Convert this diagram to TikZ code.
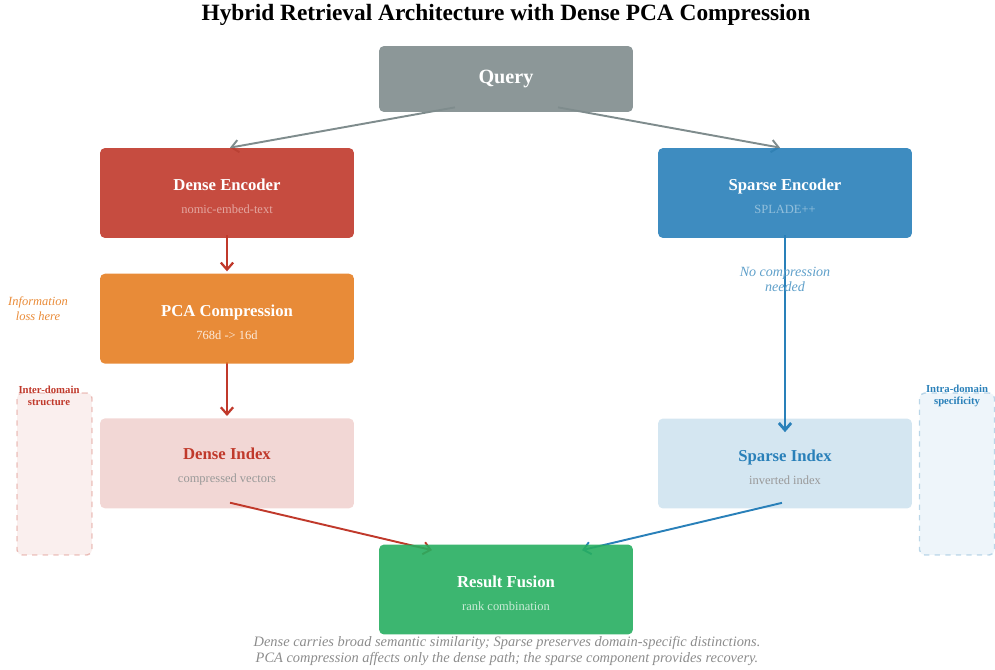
\documentclass[tikz,border=0pt]{standalone}
\usepackage{fontspec}
\setmainfont{Liberation Serif}
\usetikzlibrary{positioning,arrows.meta,calc}
\pgfdeclarelayer{back}
\pgfsetlayers{back,main}
\definecolor{querygray}{HTML}{7F8C8D}
\definecolor{densered}{HTML}{C0392B}
\definecolor{sparseblue}{HTML}{2980B9}
\definecolor{pcaorange}{HTML}{E67E22}
\definecolor{fusiongreen}{HTML}{27AE60}
\newcommand{\boxlines}[3]{{\fontsize{9.5}{10.5}\selectfont\bfseries\rule{0pt}{10.5pt}#1}\\[1.2pt]{\fontsize{7.1}{8}\selectfont\color{#3}#2}}

\begin{document}
\begin{tikzpicture}[x=0.02cm,y=-0.02cm,
box/.style={rectangle,rounded corners=0.1cm,minimum width=5.08cm,minimum height=1.8cm,
    align=center,inner sep=0pt,fill opacity=0.9,text opacity=1,text=white},
lightbox/.style={box,fill opacity=0.2},
sidebox/.style={rectangle,rounded corners=0.1cm,dashed,line width=0.8pt,minimum width=1.5cm,
    minimum height=3.24cm,draw opacity=0.3,fill opacity=0.08},
sidelabel/.style={align=center,font=\fontsize{6.1}{7.2}\selectfont\bfseries},
note/.style={align=center,font=\fontsize{8}{8.5}\selectfont\itshape},
flow/.style={line width=1.1pt,-{Straight Barb[length=4pt,width=7pt]}}]
\useasboundingbox (0,0) rectangle (995,670);

\node (title) at (506,14.5) {\fontsize{13.3}{15}\selectfont\bfseries Hybrid Retrieval Architecture with Dense PCA Compression};

\node (query) [box,fill=querygray,minimum height=1.32cm] at (506,79)
    {\fontsize{11.5}{13}\selectfont\bfseries Query};
\node (denc) [box,fill=densered] at (227,193)
    {\boxlines{Dense Encoder}{nomic-embed-text}{white!55!densered}};
\node (senc) [box,fill=sparseblue] at (785,193)
    {\boxlines{Sparse Encoder}{SPLADE++}{white!50!sparseblue}};
\node (pca) [box,fill=pcaorange,below=0.7cm of denc]
    {\boxlines{PCA Compression}{768d -> 16d}{white!85!pcaorange}};
\node (dindex) [lightbox,fill=densered,below=1.08cm of pca]
    {\boxlines{\textcolor{densered}{Dense Index}}{compressed vectors}{black!40}};
\node (sindex) [lightbox,fill=sparseblue] at (785,463.5)
    {\boxlines{\textcolor{sparseblue}{Sparse Index}}{inverted index}{black!40}};
\node (fusion) [box,fill=fusiongreen] at (506,589.5)
    {\boxlines{Result Fusion}{rank combination}{white!75!fusiongreen}};

% side regions
\node (interbox) [sidebox,draw=densered,fill=densered] at (54.5,474) {};
\node (interlabel) [sidelabel,text=densered] at (49,396) {Inter-domain\\structure};
\node (intrabox) [sidebox,draw=sparseblue,fill=sparseblue] at (957,474) {};
\node (intralabel) [sidelabel,text=sparseblue] at (957,396) {Intra-domain\\specificity};

\node (lossnote) [note,text=pcaorange!90!white,font=\fontsize{7.1}{8.5}\selectfont\itshape] at (38,309) {Information\\loss here};
\node (nocompnote) [note,text=sparseblue!75!white] at (785,279) {No compression\\needed};

\node (caption) [align=center,text=black!45,font=\fontsize{8.2}{9}\selectfont\itshape] at (507,651)
    {Dense carries broad semantic similarity; Sparse preserves domain-specific distinctions.\\
     PCA compression affects only the dense path; the sparse component provides recovery.};

\begin{pgfonlayer}{back}
\draw[flow,querygray] ($(query.south)+(-51,-5)$) -- ($(denc.north)+(3,0)$);
\draw[flow,querygray] ($(query.south)+(52,-5)$) -- ($(senc.north)+(-5,0)$);
\draw[flow,densered,line width=1.3pt] ($(denc.south)+(0,-3)$) -- ($(pca.north)+(0,-2)$);
\draw[flow,densered,line width=1.3pt] ($(pca.south)+(0,-2)$) -- ($(dindex.north)+(0,-2)$);
\draw[flow,sparseblue,line width=1.6pt] ($(senc.south)+(0,-3)$) -- ($(sindex.north)+(0,14)$);
\draw[flow,densered] ($(dindex.south)+(3,-6)$) -- ($(fusion.north)+(-74,6)$);
\draw[flow,sparseblue] ($(sindex.south)+(-3,-6)$) -- ($(fusion.north)+(76,6)$);
\end{pgfonlayer}
\end{tikzpicture}
\end{document}
